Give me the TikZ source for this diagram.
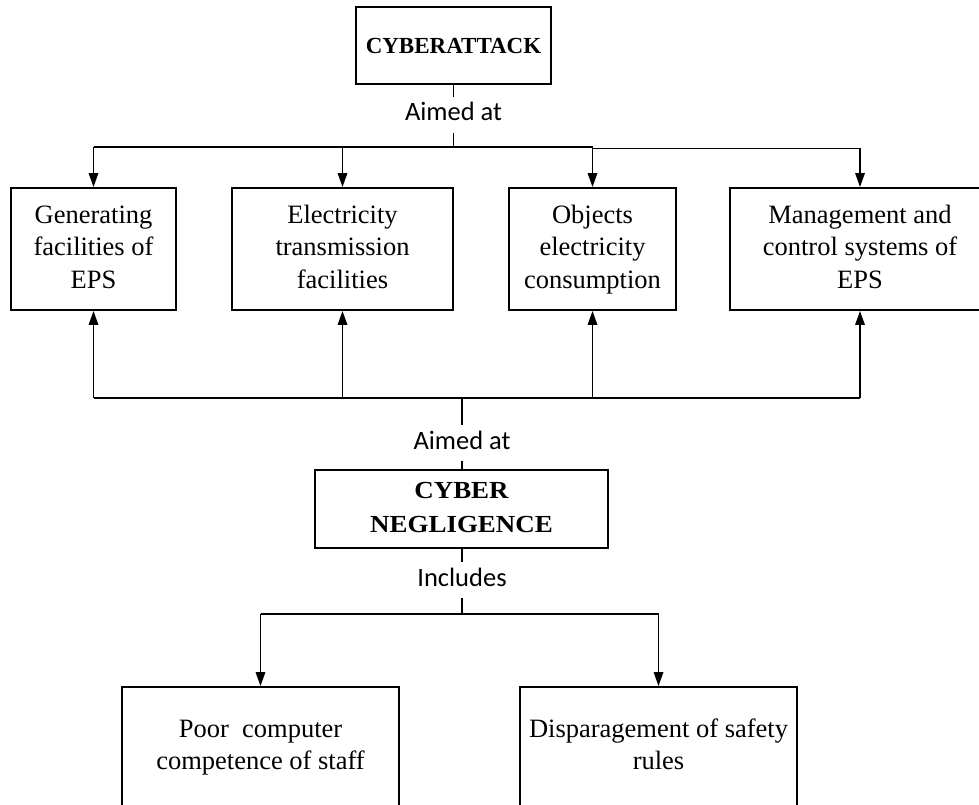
\documentclass[tikz,border=0pt]{standalone}
\usepackage{fontspec}
\setmainfont{Liberation Serif}
\newfontfamily\lblfont{Carlito}
\newfontfamily\negfont[FakeStretch=1.1]{Liberation Serif Bold}
\usetikzlibrary{arrows.meta}
\newcommand{\boxline}[1]{\strut#1}
\begin{document}
\begin{tikzpicture}[x=1pt,y=-1pt,
  box/.style={draw=black,line width=1.9pt,inner sep=0pt,align=center,
    font=\fontsize{26.5}{32.5}\selectfont},
  title/.style={draw=black,line width=1.9pt,inner sep=0pt,align=center},
  lbl/.style={inner xsep=2pt,inner ysep=6pt,text height=18pt,text depth=6pt,
    font=\lblfont\fontsize{26.5}{30}\selectfont},
  conn/.style={line width=1.7pt},
  arr/.style={line width=1.7pt,-{Triangle[length=14pt,width=9.5pt]}}]
\clip (0,0) rectangle (979,805);
\fill[white] (0,0) rectangle (979,805);
% top
\node[title,minimum width=195pt,minimum height=77pt,
  font=\bfseries\fontsize{23}{28}\selectfont] (atk) at (453.5,45.5) {CYBERATTACK};
\node[lbl] (aim1) at (453.5,115) {Aimed at};
% row of targets
\node[box,minimum width=165.5pt,minimum height=122pt] (b1) at (93.5,249) {\boxline{Generating}\\\boxline{facilities of}\\\boxline{EPS}};
\node[box,minimum width=221pt,minimum height=122pt] (b2) at (342.5,249) {\boxline{Electricity}\\\boxline{transmission}\\\boxline{facilities}};
\node[box,minimum width=167pt,minimum height=122pt] (b3) at (592.5,249) {\boxline{Objects}\\\boxline{electricity}\\\boxline{consumption}};
\node[box,minimum width=260pt,minimum height=122pt] (b4) at (860,249) {\boxline{Management and}\\\boxline{control systems of}\\\boxline{EPS}};
% middle
\node[lbl] (aim2) at (462,443) {Aimed at};
\node[title,minimum width=293pt,minimum height=78pt,
  font=\negfont\fontsize{24.5}{33.5}\selectfont] (neg) at (461.5,509) {\strut CYBER\\NEGLIGENCE\strut};
\node[lbl] (inc) at (462,580) {Includes};
% bottom
\node[box,minimum width=277pt,minimum height=120pt] (p1) at (260.5,747) {\boxline{Poor\ \ computer}\\\boxline{competence of staff}};
\node[box,minimum width=277pt,minimum height=120pt] (p2) at (658.5,747) {\boxline{Disparagement of safety}\\\boxline{rules}};
% junction points
\coordinate (j1) at (453.5,147);
\coordinate (j2) at (592.5,148.5);
\coordinate (j4) at (462,398);
\coordinate (j3) at (462,614);
% top connectors
\draw[conn] (atk.south) -- (aim1.north);
\draw[conn] (aim1.south) -- (j1);
\draw[conn] (b1.north |- j1) -- (b3.north |- j1);
\draw[conn] (j2) -- (b4.north |- j2);
\draw[arr] (b1.north |- j1) -- (b1.north);
\draw[arr] (b2.north |- j1) -- (b2.north);
\draw[arr] (b3.north |- j1) -- (b3.north);
\draw[arr] (b4.north |- j2) -- (b4.north);
% middle connectors
\draw[conn] (b1.south |- j4) -- (b4.south |- j4);
\draw[arr] (b1.south |- j4) -- (b1.south);
\draw[arr] (b2.south |- j4) -- (b2.south);
\draw[arr] (b3.south |- j4) -- (b3.south);
\draw[arr] (b4.south |- j4) -- (b4.south);
\draw[conn] (j4) -- (aim2.north);
\draw[conn] (aim2.south) -- (neg.north -| aim2.south);
% bottom connectors
\draw[conn] (neg.south -| inc.north) -- (inc.north);
\draw[conn] (inc.south) -- (j3);
\draw[conn] (p1.north |- j3) -- (p2.north |- j3);
\draw[arr] (p1.north |- j3) -- (p1.north);
\draw[arr] (p2.north |- j3) -- (p2.north);
\end{tikzpicture}
\end{document}
